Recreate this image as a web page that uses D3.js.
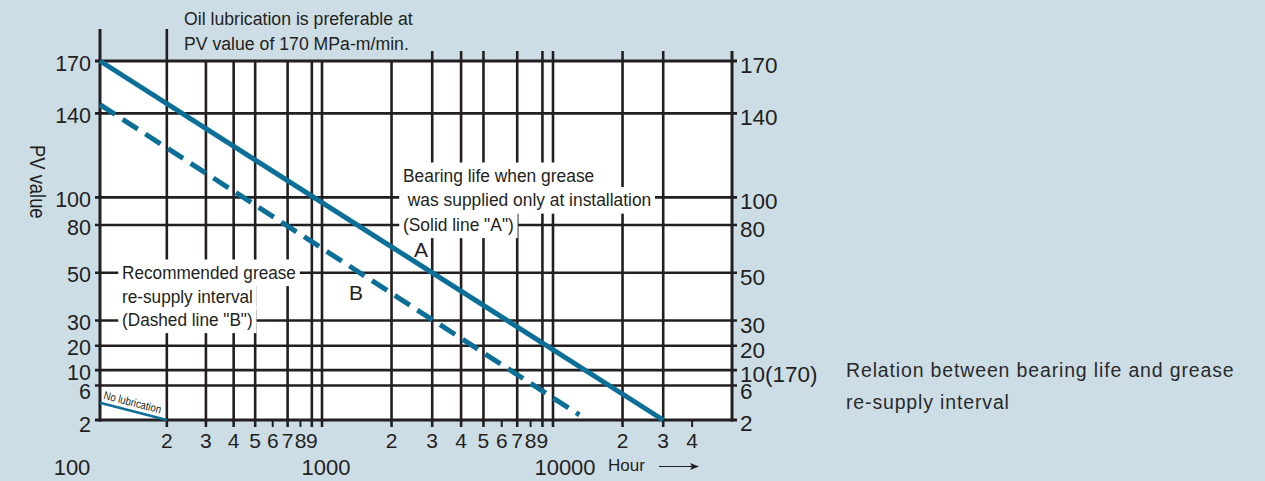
<!DOCTYPE html>
<html>
<head>
<meta charset="utf-8">
<script src="https://cdn.jsdelivr.net/npm/d3@7"></script>
<style>
  html, body { margin: 0; padding: 0; background: #cddde6; }
  svg { display: block; font-family: "Liberation Sans", Arial, Helvetica, sans-serif; }
</style>
</head>
<body>
<svg id="chart" width="1265" height="481"></svg>
<script>
// ── Data ──────────────────────────────────────────────────────────────────
const pvTicks       = [170, 140, 100, 80, 50, 30, 20, 10, 6, 2];
const pvLabelsLeft  = ['170', '140', '100', '80', '50', '30', '20', '10', '6', '2'];
const pvLabelsRight = ['170', '140', '100', '80', '50', '30', '20', '10(170)', '6', '2'];

const hourGrid   = [100, 200, 300, 400, 500, 700, 900, 1000, 2000, 3000, 4000, 5000, 7000, 9000, 10000, 20000, 30000];
const hourMinor  = [600, 800, 6000, 8000, 40000];
const hourDigits = [200, 300, 400, 500, 600, 700, 800, 900, 2000, 3000, 4000, 5000, 6000, 7000, 8000, 9000, 20000, 30000, 40000];
const hourDecades = [100, 1000, 10000];

const lineA  = [{ hour: 100, pv: 170 }, { hour: 30000, pv: 2 }];   // solid "A"
const lineB  = [{ hour: 100, pv: 145 }, { hour: 13000, pv: 2.6 }]; // dashed "B"
const noLube = [{ hour: 100, pv: 4 },   { hour: 200, pv: 2 }];

// ── Layout ────────────────────────────────────────────────────────────────
const INK  = '#231f20';
const BLUE = '#0b6f98';
const plot = { left: 100, right: 732, top: 61, bottom: 420 };
const H = plot.bottom - plot.top;
// the PV axis of the original is not uniform: relative position of each tick
const pvStops = [0, 0.146, 0.380, 0.457, 0.590, 0.723, 0.793, 0.861, 0.904, 1];

const svg = d3.select('#chart');

const x = d3.scaleLog().domain([100, 1000, 10000]).range([plot.left, 322, 553]);
const y = d3.scaleLinear().domain(pvTicks).range(pvStops.map(f => plot.top + f * H));

const gPlot = svg.append('g');
const gGrid = svg.append('g');
const gData = svg.append('g');
const gNote = svg.append('g').attr('fill', INK);
const gText = svg.append('g').attr('fill', INK);

// white plot area
gPlot.append('rect')
  .attr('x', plot.left).attr('y', plot.top)
  .attr('width', plot.right - plot.left).attr('height', H)
  .attr('fill', '#fff');

// horizontal grid (with small stubs on both sides)
gGrid.selectAll('.hline').data(pvTicks).join('line')
  .attr('class', 'hline')
  .attr('x1', plot.left - 5).attr('x2', plot.right + 5)
  .attr('y1', d => y(d)).attr('y2', d => y(d))
  .attr('stroke', INK)
  .attr('stroke-width', (d, i) => (i === 0 || i === pvTicks.length - 1) ? 3 : 2.6);

// vertical grid
const topExt = h => (h <= 200 ? 32 : h >= 3000 ? 10 : 0);
gGrid.selectAll('.vline').data(hourGrid).join('line')
  .attr('class', 'vline')
  .attr('x1', d => x(d)).attr('x2', d => x(d))
  .attr('y1', d => plot.top - topExt(d))
  .attr('y2', d => d === 100 ? plot.bottom + 1.5 : plot.bottom + 7)
  .attr('stroke', INK)
  .attr('stroke-width', d => d === 100 ? 3 : 2.6);

gGrid.selectAll('.minor').data(hourMinor).join('line')
  .attr('class', 'minor')
  .attr('x1', d => x(d)).attr('x2', d => x(d))
  .attr('y1', plot.bottom).attr('y2', plot.bottom + 7)
  .attr('stroke', INK).attr('stroke-width', 2);

// right border
gGrid.append('line')
  .attr('x1', plot.right).attr('x2', plot.right)
  .attr('y1', plot.top - 10).attr('y2', plot.bottom + 1.5)
  .attr('stroke', INK).attr('stroke-width', 3);

// ── Lines ─────────────────────────────────────────────────────────────────
const line = d3.line().x(d => x(d.hour)).y(d => y(d.pv));

gData.append('path').datum(lineA)
  .attr('d', line).attr('fill', 'none')
  .attr('stroke', BLUE).attr('stroke-width', 5);

gData.append('path').datum(lineB)
  .attr('d', line).attr('fill', 'none')
  .attr('stroke', BLUE).attr('stroke-width', 5)
  .attr('stroke-dasharray', '18 9');

gData.append('path').datum(noLube)
  .attr('d', line).attr('fill', 'none')
  .attr('stroke', BLUE).attr('stroke-width', 2.5);

// "No lubrication" follows its own line
const p0 = [x(noLube[0].hour), y(noLube[0].pv)];
const p1 = [x(noLube[1].hour), y(noLube[1].pv)];
const ang = Math.atan2(p1[1] - p0[1], p1[0] - p0[0]) * 180 / Math.PI;
gText.append('text')
  .attr('transform', `translate(${p0[0] + 3},${p0[1] - 4}) rotate(${ang}) scale(0.92,1.1)`)
  .attr('font-size', 10.5)
  .text('No lubrication');

// ── Axis labels ───────────────────────────────────────────────────────────
const leftNudge  = { 6: 3.5, 2: 2 };
const rightNudge = { 6: 1.5, 2: -1 };
gText.selectAll('.yl').data(pvTicks).join('text')
  .attr('class', 'yl')
  .attr('x', plot.left - 9)
  .attr('y', d => y(d) + 9.5 + (leftNudge[d] || 0))
  .attr('text-anchor', 'end')
  .attr('font-size', 21.5)
  .text((d, i) => pvLabelsLeft[i]);

gText.selectAll('.yr').data(pvTicks).join('text')
  .attr('class', 'yr')
  .attr('x', plot.right + 8)
  .attr('y', d => y(d) + 12 + (rightNudge[d] || 0))
  .attr('font-size', 22.5)
  .text((d, i) => pvLabelsRight[i]);

gText.selectAll('.xd').data(hourDigits).join('text')
  .attr('class', 'xd')
  .attr('x', d => x(d))
  .attr('y', plot.bottom + 28)
  .attr('text-anchor', 'middle')
  .attr('font-size', 21)
  .text(d => String(d).charAt(0));

const decadeNudge = { 100: -28, 1000: 4, 10000: 12 };
gText.selectAll('.xdec').data(hourDecades).join('text')
  .attr('class', 'xdec')
  .attr('x', d => x(d) + decadeNudge[d])
  .attr('y', plot.bottom + 55)
  .attr('text-anchor', 'middle')
  .attr('font-size', 22)
  .text(d => d);

gText.append('text')
  .attr('x', 608).attr('y', 471)
  .attr('font-size', 17)
  .text('Hour');
gText.append('line')
  .attr('x1', 659).attr('x2', 694).attr('y1', 466.5).attr('y2', 466.5)
  .attr('stroke', INK).attr('stroke-width', 1.2);
gText.append('path')
  .attr('d', 'M699,466.5 L690,463 L692,466.5 L690,470 Z');

gText.append('text')
  .attr('transform', 'translate(30,145) rotate(90) scale(0.92,1.08)')
  .attr('font-size', 20)
  .text('PV value');

// ── Annotations ───────────────────────────────────────────────────────────
// narrow type: each block is squeezed a little horizontally
function block(lines, x0, baselines, size, bg) {
  const g  = gNote.append('g').attr('transform', `translate(${x0},0) scale(0.94,1)`);
  const gb = g.append('g');
  const gt = g.append('g');
  lines.forEach((t, i) => {
    const tx = gt.append('text')
      .attr('x', 0).attr('y', baselines[i])
      .attr('font-size', size)
      .style('white-space', 'pre')
      .text(t);
    if (bg) {
      const b = tx.node().getBBox();
      gb.append('rect')
        .attr('x', b.x - 4).attr('y', b.y - 3)
        .attr('width', b.width + 8).attr('height', b.height + 6)
        .attr('fill', '#fff');
    }
  });
}

block(['Oil lubrication is preferable at', 'PV value of 170 MPa-m/min.'], 184, [25, 50], 18.8, false);
block(['Bearing life when grease', ' was supplied only at installation', '(Solid line "A")'], 403, [182, 206.5, 231], 18.5, true);
block(['Recommended grease', 're-supply interval', '(Dashed line "B")'], 122, [279, 303, 326], 18.3, true);

gText.append('text').attr('x', 414).attr('y', 257).attr('font-size', 21).text('A');
gText.append('text').attr('x', 349).attr('y', 300).attr('font-size', 21).text('B');

// caption
gText.append('text').attr('x', 846).attr('y', 377)
  .attr('font-size', 19.5).attr('letter-spacing', 0.85).attr('fill', '#2a2a2a')
  .text('Relation between bearing life and grease');
gText.append('text').attr('x', 846).attr('y', 409)
  .attr('font-size', 19.5).attr('letter-spacing', 0.85).attr('fill', '#2a2a2a')
  .text('re-supply interval');
</script>
</body>
</html>
